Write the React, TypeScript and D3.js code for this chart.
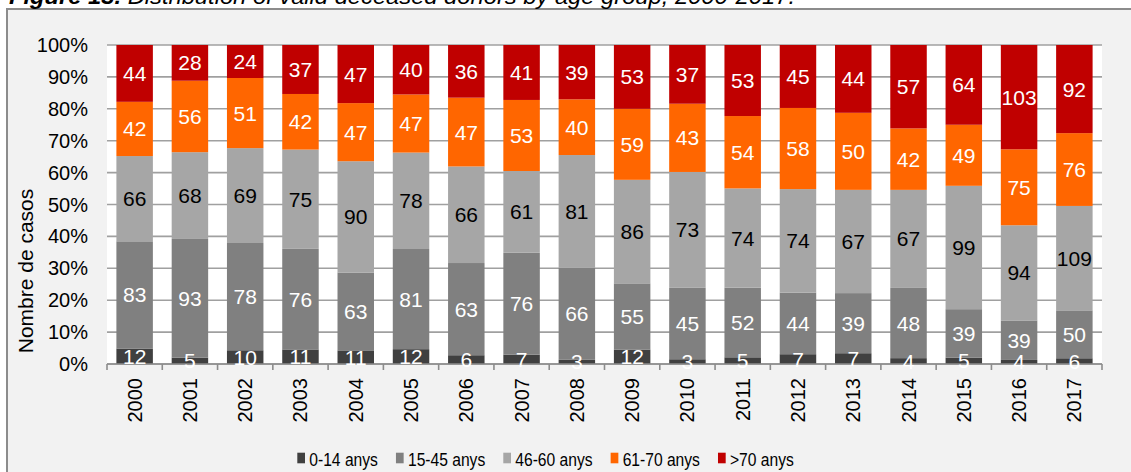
import React from "react";
import * as d3 from "d3";

const years = ["2000","2001","2002","2003","2004","2005","2006","2007","2008","2009","2010","2011","2012","2013","2014","2015","2016","2017"];
const seriesNames = ["0-14 anys", "15-45 anys", "46-60 anys", "61-70 anys", ">70 anys"];
const age0_14 = [12, 5, 10, 11, 11, 12, 6, 7, 3, 12, 3, 5, 7, 7, 4, 5, 4, 6];
const age15_45 = [83, 93, 78, 76, 63, 81, 63, 76, 66, 55, 45, 52, 44, 39, 48, 39, 39, 50];
const age46_60 = [66, 68, 69, 75, 90, 78, 66, 61, 81, 86, 73, 74, 74, 67, 67, 99, 94, 109];
const age61_70 = [42, 56, 51, 42, 47, 47, 47, 53, 40, 59, 43, 54, 58, 50, 42, 49, 75, 76];
const ageOver70 = [44, 28, 24, 37, 47, 40, 36, 41, 39, 53, 37, 53, 45, 44, 57, 64, 103, 92];
const yTicks = [0, 0.1, 0.2, 0.3, 0.4, 0.5, 0.6, 0.7, 0.8, 0.9, 1.0];

const colors = ["#404040", "#808080", "#a6a6a6", "#ff6600", "#c00000"];
const labelColors = ["#ffffff", "#ffffff", "#000000", "#ffffff", "#ffffff"];
const FONT = "'Liberation Sans', Arial, sans-serif";

export default function App() {
  const W = 1131, H = 472;
  const left = 107, right = 1102, top = 45, bottom = 364;

  const seriesValues = [age0_14, age15_45, age46_60, age61_70, ageOver70];
  const rows = years.map((y, i) => {
    const r: any = { year: y };
    seriesNames.forEach((s, k) => (r[s] = seriesValues[k][i]));
    return r;
  });
  const stacked = d3.stack<any>().keys(seriesNames).offset(d3.stackOffsetExpand)(rows);

  const x = d3.scaleBand<string>().domain(years).range([left, right]).paddingInner(0.34).paddingOuter(0.17);
  const y = d3.scaleLinear().domain([0, 1]).range([bottom, top]);
  const step = (right - left) / years.length;

  // legend layout
  const legendFont = 18.5;
  const legendScale = 0.845;
  let measure = (t: string) => t.length * legendFont * 0.5;
  try {
    const ctx = document.createElement("canvas").getContext("2d");
    if (ctx) {
      ctx.font = `${legendFont}px 'Liberation Sans'`;
      measure = (t: string) => ctx.measureText(t).width;
    }
  } catch (e) {}
  const legendItems: { name: string; x: number; color: string }[] = [];
  let cx = 297.3;
  seriesNames.forEach((s, k) => {
    legendItems.push({ name: s, x: cx, color: colors[k] });
    cx += 7.7 + 4.3 + measure(s) * legendScale + 18;
  });

  return (
    <svg width={W} height={H} style={{ position: "absolute", left: 0, top: 0, background: "#ffffff" }} fontFamily={FONT}>
      <rect x={7} y={9} width={W + 20} height={H + 20} fill="#f2f2f2" stroke="#8c8c8c" strokeWidth={2} />
      <text x={9} y={4} fontSize={22} fontStyle="italic" fill="#000" textLength={786} lengthAdjust="spacingAndGlyphs">
        <tspan fontWeight="bold">Figure 13.</tspan> Distribution of valid deceased donors by age group, 2000-2017.
      </text>
      <rect x={left} y={top} width={right - left} height={bottom - top} fill="#ffffff" />
      {yTicks.map((t) => (
        <line key={t} x1={left} x2={right} y1={y(t)} y2={y(t)} stroke="#a0a0a0" strokeWidth={1.6} />
      ))}
      {yTicks.map((t) => (
        <text key={"l" + t} x={88} y={y(t)} textAnchor="end" dominantBaseline="central" fontSize={20} fill="#000">
          {Math.round(t * 100) + "%"}
        </text>
      ))}
      <text transform={`translate(25,271) rotate(-90)`} textAnchor="middle" dominantBaseline="central" fontSize={21} fill="#000">
        Nombre de casos
      </text>
      {stacked.map((layer, k) => (
        <g key={layer.key}>
          {layer.map((d, i) => (
            <rect key={i} x={x(years[i])!} width={x.bandwidth()} y={y(d[1])} height={y(d[0]) - y(d[1])} fill={colors[k]} />
          ))}
        </g>
      ))}
      <line x1={left} x2={right} y1={bottom} y2={bottom} stroke="#8c8c8c" strokeWidth={1.6} />
      {d3.range(years.length + 1).map((i) => (
        <line key={"t" + i} x1={left + i * step} x2={left + i * step} y1={bottom} y2={bottom + 6} stroke="#8c8c8c" strokeWidth={1.6} />
      ))}
      {stacked.map((layer, k) => (
        <g key={"lab" + layer.key}>
          {layer.map((d, i) => (
            <text key={i} x={x(years[i])! + x.bandwidth() / 2} y={y((d[0] + d[1]) / 2)} textAnchor="middle" dominantBaseline="central" fontSize={21} fill={labelColors[k]}>
              {seriesValues[k][i]}
            </text>
          ))}
        </g>
      ))}
      {years.map((yr) => (
        <text key={yr} transform={`translate(${x(yr)! + x.bandwidth() / 2},378) rotate(-90)`} textAnchor="end" dominantBaseline="central" fontSize={20} fill="#000">
          {yr}
        </text>
      ))}
      {legendItems.map((it) => (
        <g key={it.name}>
          <rect x={it.x} y={452.7} width={7.7} height={10.6} fill={it.color} />
          <text transform={`translate(${it.x + 12},466) scale(${legendScale},1)`} fontSize={legendFont} fill="#000">
            {it.name}
          </text>
        </g>
      ))}
    </svg>
  );
}
